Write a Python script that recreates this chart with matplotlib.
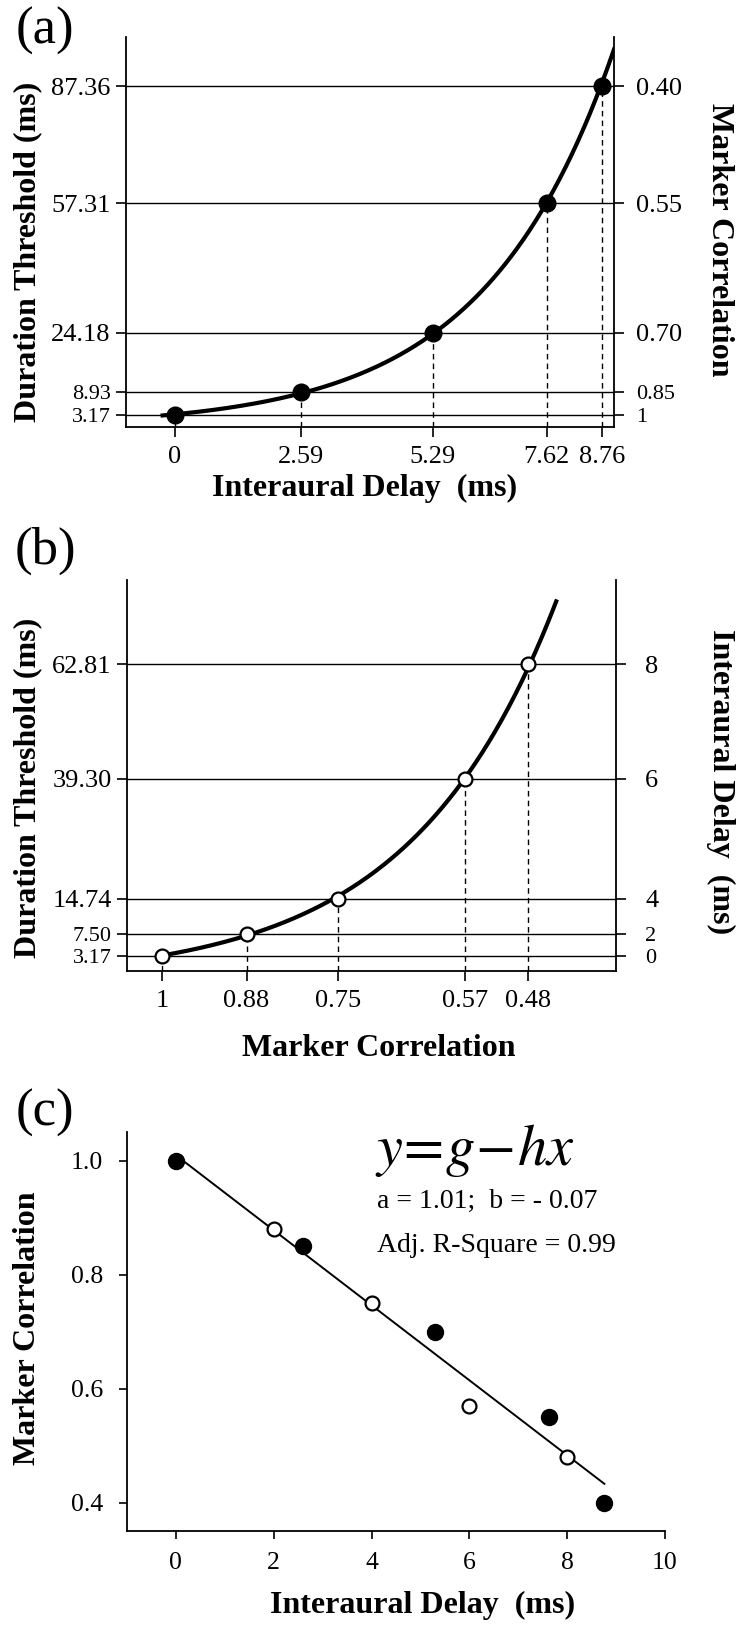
import numpy as np
import matplotlib
matplotlib.use('Agg')
import matplotlib.pyplot as plt

plt.rcParams['font.family'] = ['Liberation Serif', 'DejaVu Serif']
plt.rcParams['mathtext.fontset'] = 'stix'

# ---------------- data ----------------
# panel (a): interaural delay vs duration threshold, right axis marker correlation
delay_a = [0, 2.59, 5.29, 7.62, 8.76]
thresh_a = [3.17, 8.93, 24.18, 57.31, 87.36]
corr_a = [1.0, 0.85, 0.70, 0.55, 0.40]

# panel (b): marker correlation vs duration threshold, right axis interaural delay
corr_b = [1.0, 0.88, 0.75, 0.57, 0.48]
thresh_b = [3.17, 7.50, 14.74, 39.30, 62.81]
delay_b = [0, 2, 4, 6, 8]

# panel (c): marker correlation vs interaural delay (filled = (a), open = (b))
c_delay_filled = delay_a
c_corr_filled = corr_a
c_delay_open = delay_b
c_corr_open = corr_b

eq_text = r'$y\!=\!g\!-\!hx$'
fit_text1 = 'a = 1.01;  b = - 0.07'
fit_text2 = 'Adj. R-Square = 0.99'

W, H = 739, 1627
fig = plt.figure(figsize=(W / 100, H / 100), dpi=100)


def fpos(l, r, t, b):
    return [l / W, 1 - b / H, (r - l) / W, (b - t) / H]


def ftext(x, y, s, **kw):
    kw.setdefault('ha', 'center')
    kw.setdefault('va', 'center')
    fig.text(x / W, 1 - y / H, s, **kw)


TICK_FS = 19
SMALL_FS = 16
LAB_FS = 23
PANEL_FS = 38
LW_SP = 1.3
dash = (0, (4, 3))


def style_axes(ax):
    ax.spines['top'].set_visible(False)
    for s in ['left', 'bottom', 'right']:
        ax.spines[s].set_linewidth(LW_SP)
    ax.tick_params(direction='out', length=7, width=1.2, labelsize=TICK_FS, colors='black')


def shrink_low(labels):
    # the two lowest (crowded) labels are set smaller in the original
    for t in list(labels)[:2]:
        t.set_fontsize(SMALL_FS)


def fmt_corr(v):
    return '1' if v == 1 else f'{v:.2f}'


# ---------------- panel (a) ----------------
axa = fig.add_axes(fpos(126, 614, 37, 427))
style_axes(axa)
axa.set_xlim(-1, 9)
axa.set_ylim(0, 100)
for y in thresh_a:
    axa.axhline(y, color='black', lw=1.0, zorder=1)
axa.vlines(delay_a, 0, thresh_a, colors='black', linestyles=dash, lw=1.0, zorder=1)
k, b = np.polyfit(delay_a, np.log(thresh_a), 1)
xs = np.linspace(-0.25, 9.0, 300)
axa.plot(xs, np.exp(b + k * xs), color='black', lw=3.0, zorder=3)
axa.plot(delay_a, thresh_a, 'o', color='black', ms=12, zorder=4)
axa.set_xticks(delay_a)
axa.set_xticklabels([f'{v:g}' for v in delay_a])
axa.set_yticks(thresh_a)
axa.set_yticklabels([f'{v:.2f}' for v in thresh_a])
shrink_low(axa.get_yticklabels())
axa.tick_params(axis='x', pad=7)
axa.tick_params(axis='y', pad=4)
axa.spines['right'].set_visible(False)
axa2 = axa.twinx()
axa2.set_ylim(0, 100)
for s in ['top', 'left', 'bottom']:
    axa2.spines[s].set_visible(False)
axa2.spines['right'].set_linewidth(LW_SP)
axa2.set_yticks(thresh_a)
axa2.set_yticklabels([fmt_corr(v) for v in corr_a])
axa2.tick_params(direction='out', length=7, width=1.2, labelsize=TICK_FS, pad=9)
shrink_low(axa2.get_yticklabels())

ftext(45, 31, '(a)', fontsize=PANEL_FS)
ftext(28, 252, 'Duration Threshold (ms)', rotation=90, fontsize=LAB_FS, fontweight='bold')
ftext(720, 240, 'Marker Correlation', rotation=270, fontsize=LAB_FS, fontweight='bold')
ftext(365, 488, 'Interaural Delay  (ms)', fontsize=LAB_FS, fontweight='bold')

# ---------------- panel (b) ----------------
axb = fig.add_axes(fpos(127, 616, 580, 971))
style_axes(axb)
axb.set_xlim(1.05, 0.355)
axb.set_ylim(0, 80)
for y in thresh_b:
    axb.axhline(y, color='black', lw=1.0, zorder=1)
axb.vlines(corr_b, 0, thresh_b, colors='black', linestyles=dash, lw=1.0, zorder=1)
u = 1 - np.array(corr_b)
off = 2.0
kb, bb = np.polyfit(u, np.log(np.array(thresh_b) + off), 1)
cs = np.linspace(1.0, 0.44, 300)
axb.plot(cs, np.exp(bb + kb * (1 - cs)) - off, color='black', lw=3.0, zorder=3)
axb.plot(corr_b, thresh_b, 'o', mfc='white', mec='black', mew=1.6, ms=10, zorder=4)
axb.set_xticks(corr_b)
axb.set_xticklabels([fmt_corr(v) for v in corr_b])
axb.set_yticks(thresh_b)
axb.set_yticklabels([f'{v:.2f}' for v in thresh_b])
shrink_low(axb.get_yticklabels())
axb.tick_params(axis='x', pad=7)
axb.tick_params(axis='y', pad=4)
axb.spines['right'].set_visible(False)
axb2 = axb.twinx()
axb2.set_ylim(0, 80)
for s in ['top', 'left', 'bottom']:
    axb2.spines[s].set_visible(False)
axb2.spines['right'].set_linewidth(LW_SP)
axb2.set_yticks(thresh_b)
axb2.set_yticklabels([f'{v:g}' for v in delay_b])
axb2.tick_params(direction='out', length=7, width=1.2, labelsize=TICK_FS, pad=14)
shrink_low(axb2.get_yticklabels())

ftext(45, 551, '(b)', fontsize=PANEL_FS)
ftext(28, 788, 'Duration Threshold (ms)', rotation=90, fontsize=LAB_FS, fontweight='bold')
ftext(721, 782, 'Interaural Delay  (ms)', rotation=270, fontsize=LAB_FS, fontweight='bold')
ftext(379, 1049, 'Marker Correlation', fontsize=LAB_FS, fontweight='bold')

# ---------------- panel (c) ----------------
axc = fig.add_axes(fpos(127, 665, 1132, 1531))
axc.spines['top'].set_visible(False)
axc.spines['right'].set_visible(False)
for s in ['left', 'bottom']:
    axc.spines[s].set_linewidth(LW_SP)
axc.tick_params(direction='out', length=6, width=1.2, labelsize=18.5, colors='black')
axc.set_xlim(-1, 10)
axc.set_ylim(0.35, 1.05)
all_x = np.array(list(c_delay_filled) + list(c_delay_open))
all_y = np.array(list(c_corr_filled) + list(c_corr_open))
s, i = np.polyfit(all_x, all_y, 1)
lx = np.array([0, max(all_x)])
axc.plot(lx, i + s * lx, color='black', lw=1.4, zorder=2)
axc.plot(c_delay_open, c_corr_open, 'o', mfc='white', mec='black', mew=1.6, ms=10, zorder=3)
axc.plot(c_delay_filled, c_corr_filled, 'o', color='black', ms=11.5, zorder=4)
axc.set_xticks([0, 2, 4, 6, 8, 10])
axc.set_yticks([0.4, 0.6, 0.8, 1.0])
axc.set_yticklabels(['0.4', '0.6', '0.8', '1.0'])
axc.tick_params(axis='x', pad=9)
axc.tick_params(axis='y', pad=11)

ftext(45, 1113, '(c)', fontsize=PANEL_FS)
ftext(28, 1328, 'Marker Correlation', rotation=90, fontsize=LAB_FS, fontweight='bold')
ftext(423, 1605, 'Interaural Delay  (ms)', fontsize=LAB_FS, fontweight='bold')
fig.text(375 / W, 1 - 1165 / H, eq_text, fontsize=42, ha='left', va='baseline')
fig.text(377 / W, 1 - 1208 / H, fit_text1, fontsize=20, ha='left', va='baseline')
fig.text(377 / W, 1 - 1252 / H, fit_text2, fontsize=20, ha='left', va='baseline')

fig.savefig('out.png', dpi=100)
